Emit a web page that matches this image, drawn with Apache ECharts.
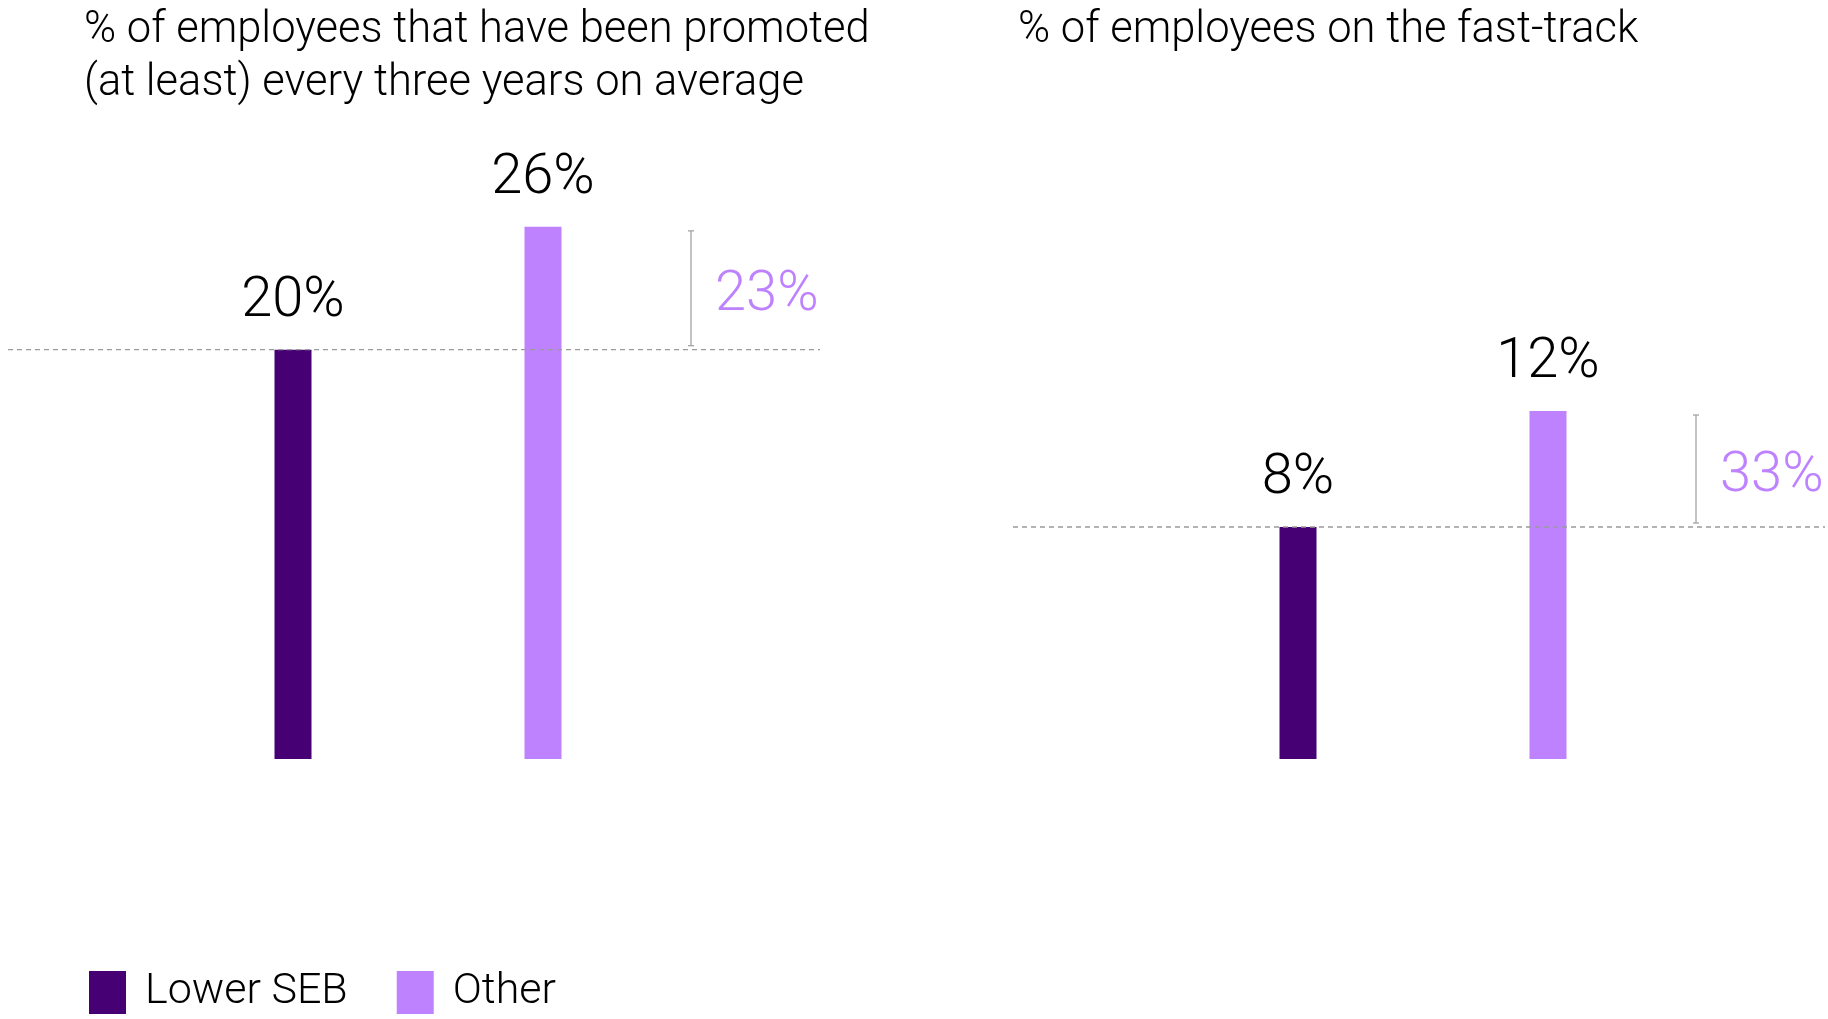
<!DOCTYPE html>
<html>
<head>
<meta charset="utf-8">
<title>Promotion and fast-track rates</title>
<script src="https://cdn.jsdelivr.net/npm/echarts@6/dist/echarts.min.js"></script>
<style>
  html, body { margin: 0; padding: 0; background: #ffffff; }
  #chart { width: 1828px; height: 1019px; }
</style>
</head>
<body>
<div id="chart"></div>
<script>
// Groups compared in both panels
const categories = ['Lower SEB', 'Other'];

// Panel 1: promoted (at least) every three years on average, %
const promotedValues = [20, 26];
const promotedGap = 23;   // relative gap shown beside the bracket, %

// Panel 2: on the fast-track, %
const fastTrackValues = [8, 12];
const fastTrackGap = 33;

const panelTitles = [
  '% of employees that have been promoted\n(at least) every three years on average',
  '% of employees on the fast-track'
];

const DARK = '#460073';
const LIGHT = '#be82ff';
const FONT = 'Roboto';

const valueLabel = {
  show: true,
  position: 'top',
  distance: 20,
  formatter: p => p.value + '%',
  fontFamily: FONT,
  fontWeight: 300,
  fontSize: 56,
  color: '#000000'
};

function barSeries(name, color, values, idx, keepIndex, stack) {
  return {
    name: name,
    type: 'bar',
    xAxisIndex: idx,
    yAxisIndex: idx,
    stack: stack,
    barWidth: 37,
    itemStyle: { color: color },
    label: valueLabel,
    emphasis: { disabled: true },
    data: values.map((v, i) => (i === keepIndex ? v : '-'))
  };
}

// Dashed reference at the lower value, bracket up to the higher bar, and the gap label
function gapRender(params, api) {
  const cs = params.coordSys;
  const cat = api.value(0);
  const pBase = api.coord([cat, api.value(1)]);
  const pTop = api.coord([cat, api.value(2)]);
  const gap = api.value(3);
  const bx = pBase[0] + 148;
  const y1 = pBase[1] - 4;
  const y2 = pTop[1] + 4;
  const grey = '#a3a3a3';
  return {
    type: 'group',
    children: [
      {
        type: 'line',
        shape: { x1: cs.x - 160, y1: pBase[1], x2: cs.x + cs.width + 152, y2: pBase[1] },
        style: { stroke: '#9b9b9b', lineWidth: 1.3, lineDash: [5, 4] }
      },
      { type: 'line', shape: { x1: bx, y1: y1, x2: bx, y2: y2 }, style: { stroke: grey, lineWidth: 1.3 } },
      { type: 'line', shape: { x1: bx - 3, y1: y1, x2: bx + 3, y2: y1 }, style: { stroke: grey, lineWidth: 1.3 } },
      { type: 'line', shape: { x1: bx - 3, y1: y2, x2: bx + 3, y2: y2 }, style: { stroke: grey, lineWidth: 1.3 } },
      {
        type: 'text',
        style: {
          text: gap + '%',
          x: bx + 24,
          y: (pBase[1] + pTop[1]) / 2 + 8,
          verticalAlign: 'middle',
          align: 'left',
          fill: LIGHT,
          fontFamily: FONT,
          fontWeight: 300,
          fontSize: 56
        }
      }
    ]
  };
}

const chart = echarts.init(document.getElementById('chart'), null, { renderer: 'canvas' });

const titleStyle = { fontFamily: FONT, fontWeight: 300, fontSize: 43.5, lineHeight: 53, color: '#000000' };

chart.setOption({
  backgroundColor: '#ffffff',
  animation: false,
  title: [
    { text: panelTitles[0], left: 84, top: 5, padding: 0, textStyle: titleStyle },
    { text: panelTitles[1], left: 1018, top: 5, padding: 0, textStyle: titleStyle }
  ],
  legend: {
    left: 89,
    top: 971,
    padding: 0,
    itemWidth: 37,
    itemHeight: 43,
    itemGap: 49,
    icon: 'rect',
    selectedMode: false,
    data: categories,
    textStyle: { fontFamily: FONT, fontWeight: 300, fontSize: 43, color: '#000000', padding: [18, 0, 0, 14] }
  },
  grid: [
    { left: 168, width: 500, top: 145, height: 614 },
    { left: 1173, width: 500, top: 179, height: 580 }
  ],
  xAxis: [
    { type: 'category', gridIndex: 0, data: categories, show: false },
    { type: 'category', gridIndex: 1, data: categories, show: false }
  ],
  yAxis: [
    { type: 'value', gridIndex: 0, min: 0, max: 30, show: false },
    { type: 'value', gridIndex: 1, min: 0, max: 20, show: false }
  ],
  series: [
    barSeries(categories[0], DARK, promotedValues, 0, 0, 'promoted'),
    barSeries(categories[1], LIGHT, promotedValues, 0, 1, 'promoted'),
    barSeries(categories[0], DARK, fastTrackValues, 1, 0, 'fast'),
    barSeries(categories[1], LIGHT, fastTrackValues, 1, 1, 'fast'),
    {
      type: 'custom',
      xAxisIndex: 0, yAxisIndex: 0,
      silent: true,
      z: 5,
      renderItem: gapRender,
      encode: { x: 0, y: [1, 2] },
      data: [[1, promotedValues[0], promotedValues[1], promotedGap]]
    },
    {
      type: 'custom',
      xAxisIndex: 1, yAxisIndex: 1,
      silent: true,
      z: 5,
      renderItem: gapRender,
      encode: { x: 0, y: [1, 2] },
      data: [[1, fastTrackValues[0], fastTrackValues[1], fastTrackGap]]
    }
  ]
});
</script>
</body>
</html>
